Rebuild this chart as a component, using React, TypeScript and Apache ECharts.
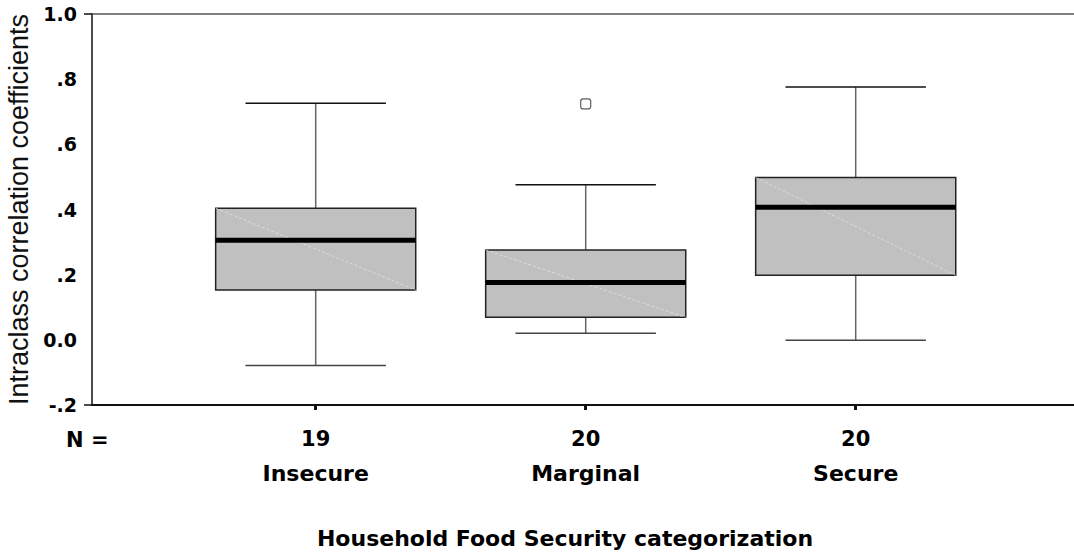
import React, { useEffect, useRef } from "react";
import * as echarts from "echarts";

// ---- data ----
const categories = ["Insecure", "Marginal", "Secure"];
const nValues = [19, 20, 20];
const lowWhisker = [-0.079, 0.02, -0.001];
const q1 = [0.153, 0.069, 0.198];
const median = [0.306, 0.176, 0.407];
const q3 = [0.404, 0.276, 0.498];
const highWhisker = [0.726, 0.476, 0.776];
const outliers: [number, number][] = [[2, 0.724]];
const yTicks = [-0.2, 0, 0.2, 0.4, 0.6, 0.8, 1.0];
const yTickLabels = ["-.2", "0.0", ".2", ".4", ".6", ".8", "1.0"];

const X_MIN = 0.1715;
const X_MAX = 3.8085;
const BOX_W = 0.741;
const CAP_W = 0.52;

export default function App() {
  const ref = useRef<HTMLDivElement>(null);
  useEffect(() => {
    if (!ref.current) return;
    const chart = echarts.init(ref.current, null, { renderer: "svg" });
    const positions = categories.map((_, i) => i + 1);
    const boxData = categories.map((_, i) => [
      positions[i],
      lowWhisker[i],
      q1[i],
      median[i],
      q3[i],
      highWhisker[i],
    ]);
    const labelFont = "'DejaVu Sans', 'Liberation Sans', Arial, sans-serif";
    const option: any = {
      animation: false,
      backgroundColor: "#ffffff",
      title: {
        text: "Household Food Security categorization",
        left: 560,
        top: 522,
        textAlign: "center",
        textStyle: {
          fontFamily: labelFont,
          fontWeight: "bold",
          fontSize: 22,
          color: "#000",
        },
      },
      grid: {
        left: 92,
        right: 0,
        top: 14,
        bottom: 147,
        containLabel: false,
        outerBoundsMode: "none",
      },
      xAxis: [
        {
          type: "value",
          min: X_MIN,
          max: X_MAX,
          position: "bottom",
          splitLine: { show: false },
          axisLine: { show: true, onZero: false, lineStyle: { color: "#111", width: 2 } },
          axisTick: {
            show: true,
            customValues: positions,
            length: 5,
            lineStyle: { color: "#111", width: 3 },
          },
          axisLabel: {
            show: true,
            customValues: positions,
            margin: 16,
            formatter: (v: number) => {
              const i = Math.round(v) - 1;
              return `{n|${nValues[i]}}\n{c|${categories[i]}}`;
            },
            rich: {
              n: {
                fontFamily: labelFont,
                fontWeight: "bold",
                fontSize: 21,
                lineHeight: 35,
                color: "#000",
              },
              c: {
                fontFamily: labelFont,
                fontWeight: "bold",
                fontSize: 22,
                lineHeight: 35,
                color: "#000",
              },
            },
          },
        },
        {
          type: "value",
          min: X_MIN,
          max: X_MAX,
          position: "top",
          splitLine: { show: false },
          axisLine: { show: true, onZero: false, lineStyle: { color: "#555", width: 1.5 } },
          axisTick: { show: false },
          axisLabel: { show: false },
        },
      ],
      yAxis: {
        type: "value",
        min: -0.2,
        max: 1.0,
        interval: 0.2,
        splitLine: { show: false },
        name: "Intraclass correlation coefficients",
        nameLocation: "middle",
        nameRotate: 90,
        nameGap: 60,
        nameTextStyle: {
          fontFamily: "'Liberation Sans', Arial, sans-serif",
          fontSize: 27,
          color: "#111",
        },
        axisLine: { show: true, onZero: false, lineStyle: { color: "#111", width: 1.5 } },
        axisTick: {
          show: true,
          customValues: [-0.2, 1.0],
          length: 8,
          lineStyle: { color: "#111", width: 1.5 },
        },
        axisLabel: {
          margin: 15,
          fontFamily: labelFont,
          fontWeight: "bold",
          fontSize: 19,
          color: "#000",
          formatter: (v: number) => {
            const idx = yTicks.findIndex((t) => Math.abs(t - v) < 1e-6);
            return idx >= 0 ? yTickLabels[idx] : "";
          },
        },
      },
      graphic: [
        {
          type: "text",
          left: 66,
          top: 429,
          style: {
            text: "N =",
            fontFamily: labelFont,
            fontWeight: "bold",
            fontSize: 21,
            fill: "#000",
          },
        },
      ],
      series: [
        {
          type: "custom",
          xAxisIndex: 0,
          data: boxData,
          renderItem: (params: any, api: any) => {
            const x = api.value(0);
            const cx = api.coord([x, 0])[0];
            const yLow = api.coord([x, api.value(1)])[1];
            const yQ1 = api.coord([x, api.value(2)])[1];
            const yMed = api.coord([x, api.value(3)])[1];
            const yQ3 = api.coord([x, api.value(4)])[1];
            const yHigh = api.coord([x, api.value(5)])[1];
            const boxHalf = api.size([BOX_W, 0])[0] / 2;
            const capHalf = api.size([CAP_W, 0])[0] / 2;
            return {
              type: "group",
              children: [
                {
                  type: "line",
                  shape: { x1: cx, y1: yQ3, x2: cx, y2: yHigh },
                  style: { stroke: "#666", lineWidth: 1.5 },
                },
                {
                  type: "line",
                  shape: { x1: cx, y1: yQ1, x2: cx, y2: yLow },
                  style: { stroke: "#666", lineWidth: 1.5 },
                },
                {
                  type: "line",
                  shape: { x1: cx - capHalf, y1: yHigh, x2: cx + capHalf, y2: yHigh },
                  style: { stroke: "#111", lineWidth: 1.5 },
                },
                {
                  type: "line",
                  shape: { x1: cx - capHalf, y1: yLow, x2: cx + capHalf, y2: yLow },
                  style: { stroke: "#444", lineWidth: 1.5 },
                },
                {
                  type: "rect",
                  shape: { x: cx - boxHalf, y: yQ3, width: boxHalf * 2, height: yQ1 - yQ3 },
                  style: { fill: "#c0c0c0", stroke: "#222", lineWidth: 1.5 },
                },
                {
                  type: "line",
                  shape: { x1: cx - boxHalf, y1: yQ3, x2: cx + boxHalf, y2: yQ1 },
                  style: { stroke: "rgba(235,235,235,0.8)", lineWidth: 0.8, lineDash: [3, 2] },
                },
                {
                  type: "line",
                  shape: { x1: cx - boxHalf, y1: yMed, x2: cx + boxHalf, y2: yMed },
                  style: { stroke: "#000", lineWidth: 5 },
                },
              ],
            };
          },
        },
        {
          type: "scatter",
          xAxisIndex: 0,
          data: outliers,
          symbol: "roundRect",
          symbolSize: 10,
          itemStyle: { color: "#fff", borderColor: "#333", borderWidth: 1.2 },
        },
      ],
    };
    chart.setOption(option);
    return () => chart.dispose();
  }, []);
  return (
    <div
      ref={ref}
      style={{ position: "fixed", left: 0, top: 0, width: 1074, height: 552, background: "#fff" }}
    />
  );
}
